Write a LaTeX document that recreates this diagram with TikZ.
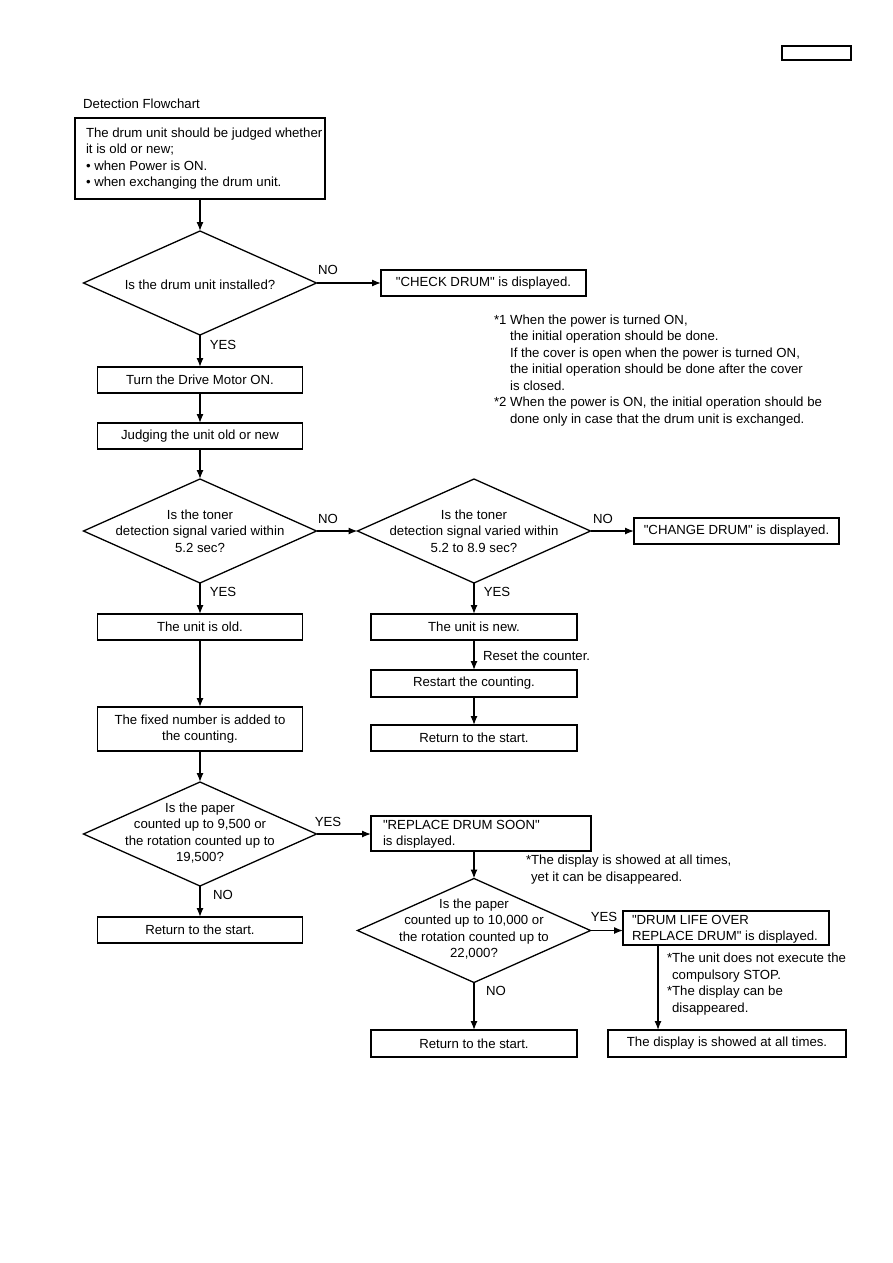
\documentclass[tikz,border=0pt]{standalone}
\usepackage{fontspec}
\newfontfamily\lsans{Liberation Sans}
\usetikzlibrary{shapes.geometric,arrows.meta,calc}
\newcommand{\dq}{"}
\begin{document}
\begin{tikzpicture}[x=1pt,y=-1pt,
 font=\lsans\fontsize{13.2}{16.5}\selectfont,
 box/.style={draw,line width=1.4pt,inner sep=0,outer sep=0,align=center},
 dia/.style={draw,diamond,line width=1.3pt,inner sep=0,outer sep=0,minimum width=233,minimum height=104},
 txt/.style={inner sep=0,outer sep=0,align=center},
 ltxt/.style={inner sep=0,outer sep=0,align=left,anchor=west},
 ntxt/.style={inner sep=0,outer sep=0,align=left,anchor=north west},
 lbl/.style={inner sep=0,outer sep=0},
 arr/.style={-{Latex[length=9pt,width=7pt]},line width=1.3pt}]
\fill[white] (0,0) rectangle (893,1263);
\useasboundingbox (0,0) rectangle (893,1263);

% header
\node[draw,line width=1.2pt,minimum width=69,minimum height=14,inner sep=0] (tag) at (816.5,53) {};
\node[anchor=base west,inner sep=0] (title) at (83,108) {Detection Flowchart};

% start box
\node[box,minimum width=250,minimum height=81] (b1) at (200,158.5) {};
\node[ltxt] (b1t) at (86,158.5) {The drum unit should be judged whether\\it is old or new;\\• when Power is ON.\\• when exchanging the drum unit.};

% diamond 1
\node[dia] (d1) at (200,283) {};
\node[txt] (d1t) at (200,285) {Is the drum unit installed?};
\node[box,minimum width=205,minimum height=26] (check) at (483.5,283) {\dq CHECK DRUM\dq{} is displayed.};

\node[box,minimum width=205,minimum height=26] (b2) at (200,380) {Turn the Drive Motor ON.};
\node[box,minimum width=205,minimum height=26] (b3) at (200,436) {Judging the unit old or new};

% diamonds 2 and 3
\node[dia] (d2) at (200,531) {};
\node[txt] (d2t) at (200,531) {Is the toner\\detection signal varied within\\5.2 sec?};
\node[dia] (d3) at (474,531) {};
\node[txt] (d3t) at (474,531) {Is the toner\\detection signal varied within\\5.2 to 8.9 sec?};
\node[box,minimum width=205,minimum height=26] (change) at (736.5,531) {\dq CHANGE DRUM\dq{} is displayed.};

\node[box,minimum width=205,minimum height=26] (old) at (200,627) {The unit is old.};
\node[box,minimum width=206,minimum height=26] (new) at (474,627) {The unit is new.};
\node[box,minimum width=206,minimum height=27] (restart) at (474,683.5) {Restart the counting.};
\node[box,minimum width=206,minimum height=26] (ret1) at (474,738) {Return to the start.};
\node[ltxt] (reset) at (483,656) {Reset the counter.};
\node[box,minimum width=205,minimum height=44] (fixed) at (200,729) {The fixed number is added to\\the counting.};

% diamond 4
\node[dia] (d4) at (200,834) {};
\node[txt] (d4t) at (200,833) {Is the paper\\counted up to 9,500 or\\the rotation counted up to\\19,500?};
\node[box,minimum width=220,minimum height=35] (soon) at (481,833.5) {};
\node[ltxt] (soont) at (383,834) {\dq REPLACE DRUM SOON\dq\\is displayed.};
\node[box,minimum width=205,minimum height=26] (ret2) at (200,930) {Return to the start.};
\node[ntxt] (n2) at (526,855) {*The display is showed at all times,\\\hphantom{*}yet it can be disappeared.};

% diamond 5
\node[dia] (d5) at (474,930.5) {};
\node[txt] (d5t) at (474,929) {Is the paper\\counted up to 10,000 or\\the rotation counted up to\\22,000?};
\node[box,minimum width=206,minimum height=34] (life) at (726,928) {};
\node[ltxt] (lifet) at (632,929) {\dq DRUM LIFE OVER\\REPLACE DRUM\dq{} is displayed.};
\node[ntxt] (n3) at (667,953) {*The unit does not execute the\\\hphantom{*}compulsory STOP.\\*The display can be\\\hphantom{*}disappeared.};
\node[box,minimum width=238,minimum height=27] (disp) at (727,1043.5) {The display is showed at all times.};
\node[box,minimum width=206,minimum height=27] (ret3) at (474,1043.5) {Return to the start.};

% notes
\node[ntxt] (n1) at (494,314.5) {*1 When the power is turned ON,\\\hphantom{*1 }the initial operation should be done.\\\hphantom{*1 }If the cover is open when the power is turned ON,\\\hphantom{*1 }the initial operation should be done after the cover\\\hphantom{*1 }is closed.\\*2 When the power is ON, the initial operation should be\\\hphantom{*2 }done only in case that the drum unit is exchanged.};

% labels
\node[lbl] (l1) at (328,270) {NO};
\node[lbl] (l2) at (223,345) {YES};
\node[lbl] (l3) at (328,519) {NO};
\node[lbl] (l4) at (603,519) {NO};
\node[lbl] (l5) at (223,592) {YES};
\node[lbl] (l6) at (497,592) {YES};
\node[lbl] (l7) at (328,822) {YES};
\node[lbl] (l8) at (223,895) {NO};
\node[lbl] (l9) at (604,917) {YES};
\node[lbl] (l10) at (496,991) {NO};

% connectors
\draw[arr] (b1.south) -- (d1.north);
\draw[arr] (d1.east) -- (check.west);
\draw[arr] (d1.south) -- (b2.north);
\draw[arr] (b2.south) -- (b3.north);
\draw[arr] (b3.south) -- (d2.north);
\draw[arr] (d2.east) -- (d3.west);
\draw[arr] (d3.east) -- (change.west);
\draw[arr] (d2.south) -- (old.north);
\draw[arr] (d3.south) -- (new.north);
\draw[arr] (new.south) -- (restart.north);
\draw[arr] (restart.south) -- (ret1.north);
\draw[arr] (old.south) -- (fixed.north);
\draw[arr] (fixed.south) -- (d4.north);
\draw[arr] (d4.east) -- (d4.east -| soon.west);
\draw[arr] (d4.south) -- (ret2.north);
\draw[arr] (d5.north |- soon.south) -- (d5.north);
\draw[arr] (d5.east) -- (d5.east -| life.west);
\draw[arr] ([xshift=35pt]life.south west) -- ([xshift=35pt]life.south west |- disp.north);
\draw[arr] (d5.south) -- (ret3.north);
\end{tikzpicture}
\end{document}
